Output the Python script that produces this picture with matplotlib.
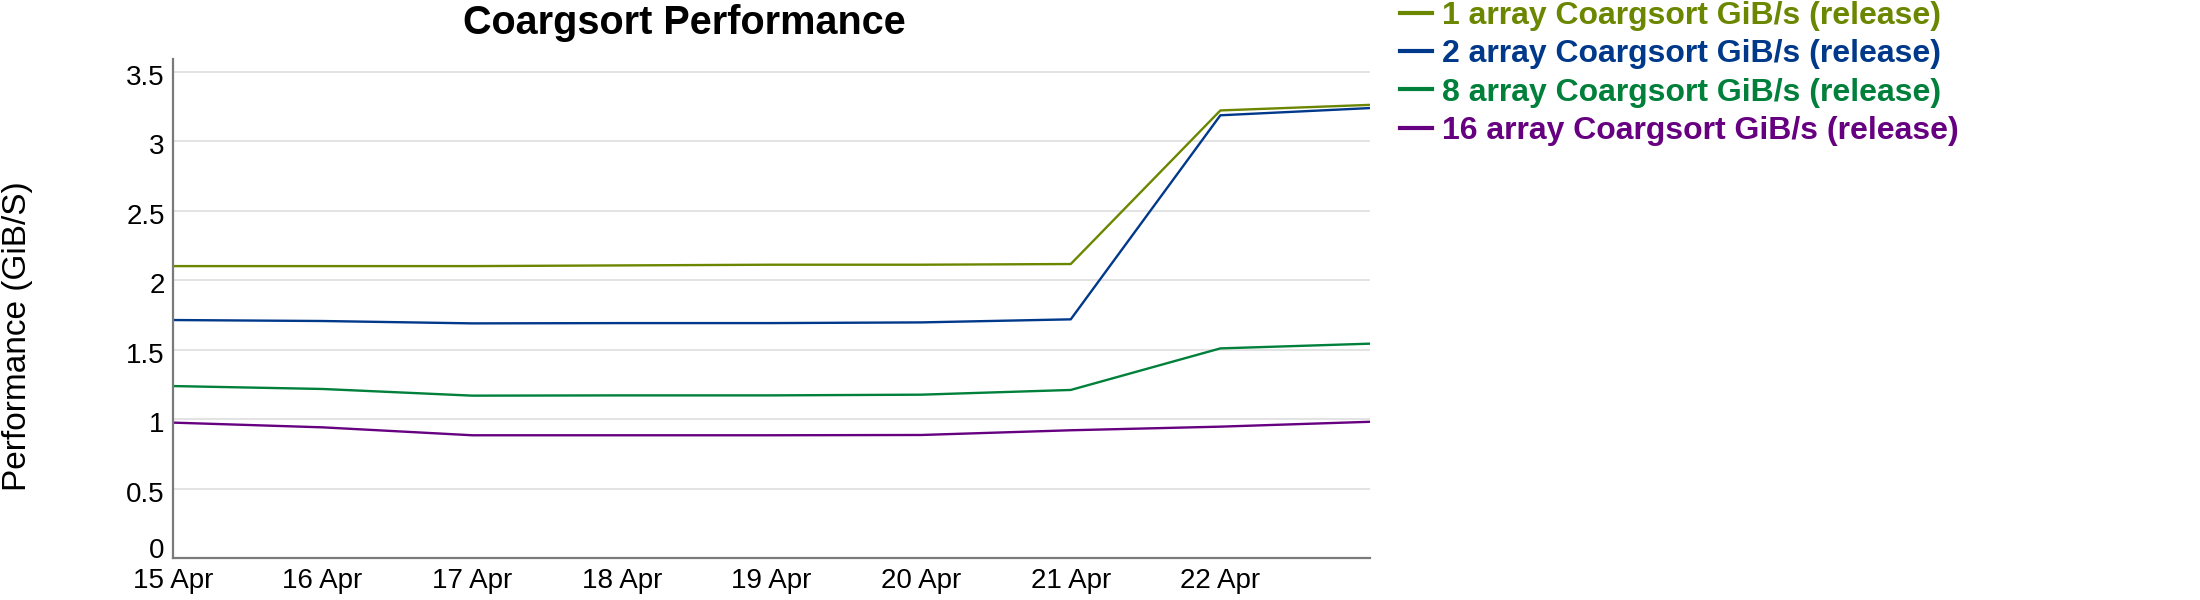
import matplotlib
matplotlib.use("Agg")
import matplotlib.pyplot as plt
import matplotlib.transforms as mtransforms

plt.rcParams['font.family'] = ['Liberation Sans', 'DejaVu Sans']

# data
days = ['15 Apr', '16 Apr', '17 Apr', '18 Apr', '19 Apr', '20 Apr', '21 Apr', '22 Apr', '23 Apr']
one_array = [2.10, 2.10, 2.10, 2.105, 2.11, 2.11, 2.115, 3.22, 3.26]
two_array = [1.712, 1.705, 1.688, 1.69, 1.69, 1.695, 1.717, 3.185, 3.237]
eight_array = [1.237, 1.216, 1.168, 1.17, 1.17, 1.175, 1.209, 1.508, 1.542]
sixteen_array = [0.974, 0.940, 0.883, 0.883, 0.883, 0.885, 0.919, 0.945, 0.98]
series_names = ['1 array Coargsort GiB/s (release)', '2 array Coargsort GiB/s (release)',
                '8 array Coargsort GiB/s (release)', '16 array Coargsort GiB/s (release)']
colors = ['#6b8700', '#00388a', '#00803a', '#660080']
yticks = [0, 0.5, 1, 1.5, 2, 2.5, 3, 3.5]
yticklabels = ['0', '0.5', '1', '1.5', '2', '2.5', '3', '3.5']

fig = plt.figure(figsize=(22, 6), dpi=100)
ax = fig.add_axes([173/2200, 42/600, (1370-173)/2200, (558-59)/600])

x = list(range(len(days)))
for vals, name, c in zip([one_array, two_array, eight_array, sixteen_array], series_names, colors):
    ax.plot(x, vals, color=c, lw=1.7, label=name)

ax.set_xlim(0, len(days) - 1)
ax.set_ylim(0, 3.59)
ax.set_xticks(x[:-1])
ax.set_xticklabels(days[:-1], fontsize=20)
ax.set_yticks(yticks)
ax.set_yticklabels(yticklabels, fontsize=20)
ax.tick_params(axis='y', length=0, pad=6)
ax.tick_params(axis='x', length=0, pad=7)
ax.grid(axis='y', color='#e0e0e0', lw=1.3)
ax.set_axisbelow(True)
for s in ['top', 'right']:
    ax.spines[s].set_visible(False)
for s in ['left', 'bottom']:
    ax.spines[s].set_color('#7a7a7a')
    ax.spines[s].set_linewidth(1.6)

# google-style label nudges: bottom label lifted, others a bit lower
for t in ax.yaxis.get_major_ticks():
    dy = 10 if t.label1.get_text() == '0' else -3
    t.label1.set_transform(t.label1.get_transform() +
                           mtransforms.ScaledTranslation(0, dy/100, fig.dpi_scale_trans))

fig.text(684/2200, 1 - 34/600, 'Coargsort Performance', ha='center', va='baseline',
         fontsize=28.5, fontweight='bold')
fig.text(18/2200, 1 - 336/600, 'Performance (GiB/S)', rotation=90, ha='center', va='center',
         fontsize=24)

leg = ax.legend(loc='upper left', bbox_to_anchor=(1400/2200, 1 - 1/600), bbox_transform=fig.transFigure,
                frameon=False, prop={'weight': 'bold', 'size': 23}, labelcolor='linecolor',
                handlelength=1.0, handletextpad=0.3, labelspacing=0.26, borderpad=0, borderaxespad=0)
for h in leg.get_lines():
    h.set_linewidth(3)

fig.savefig('out.png', dpi=100)
